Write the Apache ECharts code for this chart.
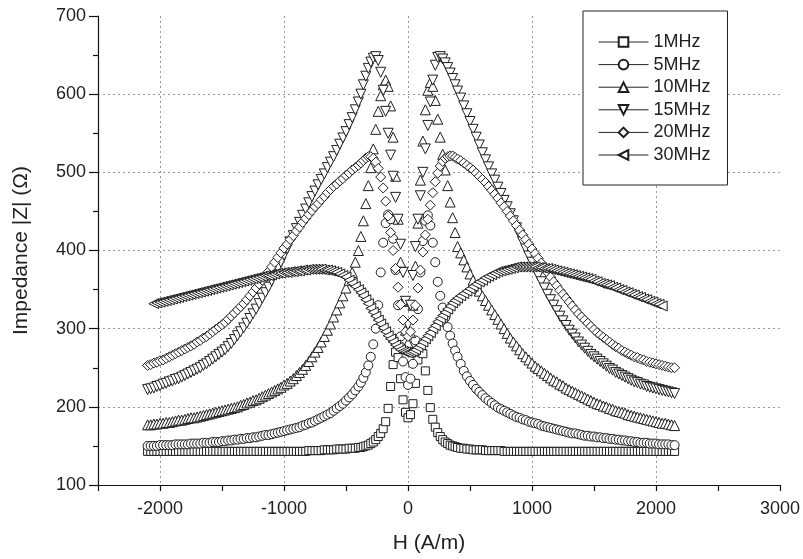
<!DOCTYPE html>
<html>
<head>
<meta charset="utf-8">
<script src="https://cdn.jsdelivr.net/npm/echarts@6/dist/echarts.min.js"></script>
<style>
    html, body { margin: 0; padding: 0; background: #fff; }
    #chart { width: 803px; height: 559px; }
</style>
</head>
<body>
<div id="chart"></div>
<script>
    // H grid (A/m): 25 A/m steps on the wings, 20 A/m steps inside +-400
    var hLeft = [
      -2100,-2075,-2050,-2025,-2000,-1975,-1950,-1925,-1900,-1875,
      -1850,-1825,-1800,-1775,-1750,-1725,-1700,-1675,-1650,-1625,
      -1600,-1575,-1550,-1525,-1500,-1475,-1450,-1425,-1400,-1375,
      -1350,-1325,-1300,-1275,-1250,-1225,-1200,-1175,-1150,-1125,
      -1100,-1075,-1050,-1025,-1000,-975,-950,-925,-900,-875,
      -850,-825,-800,-775,-750,-725,-700,-675,-650,-625,
      -600,-575,-550,-525,-500,-475,-450,-425
    ];
    var hMid = [-400,-380,-360,-340,-320,-300,-280,-260,-240,-220,-200,-180,-160,-140,-120,-100,-80,-60,-40,-20,0,20,40,60,80,100,120,140,160,180,200,220,240,260,280,300,320,340,360,380,400];
    var hRight = [
      425,450,475,500,525,550,575,600,625,650,
      675,700,725,750,775,800,825,850,875,900,
      925,950,975,1000,1025,1050,1075,1100,1125,1150,
      1175,1200,1225,1250,1275,1300,1325,1350,1375,1400,
      1425,1450,1475,1500,1525,1550,1575,1600,1625,1650,
      1675,1700,1725,1750,1775,1800,1825,1850,1875,1900,
      1925,1950,1975,2000,2025,2050,2075,2100,2125,2150
    ];
    var hValues = hLeft.concat(hMid, hRight);

    // |Z| (Ohm) per frequency, same order as hValues (left wing / middle / right wing)
    var z1MHz = [
      143,143,143,143,143,143,143,143,143,143, 143,143,143,143,143,143,143,143,143,143,
      143,143,143,143,143,143,143,143,143,143, 143,143,143,143,143,143,143,143,143,143,
      143,143,143,143,143,143,143,143,143,143, 143,143,144,144,144,144,144,145,145,145,
      145,146,146,146,146,147,147,147,
      148,148,149,150,151,153,155,158,162,166, 172,181,198,226,254,270,263,236,209,193, 186,
      190,204,230,260,275,268,246,221,199,184, 174,167,162,158,155,153,151,150,149,148,
      147,147,146,146,145,145,145,145,144,144, 144,144,144,144,143,143,143,143,143,143,
      143,143,143,143,143,143,143,143,143,143, 143,143,143,143,143,143,143,143,143,143,
      143,143,143,143,143,143,143,143,143,143, 143,143,143,143,143,143,143,143,143,143,
      143,143,143,143,143,143,143,143,143,143
    ];
    var z5MHz = [
      150,150,150,150,151,151,151,151,151,152, 152,152,152,152,153,153,153,153,154,154,
      154,155,155,155,156,156,157,157,158,158, 159,159,160,160,161,161,162,163,164,164,
      165,166,167,168,169,170,171,172,173,174, 176,177,179,180,182,184,186,188,190,192,
      195,198,201,204,208,212,216,221,
      226,231,237,244,253,264,280,300,330,372, 410,435,446,440,415,375,330,290,258,238, 228,
      236,255,285,325,372,412,438,445,432,410, 385,360,342,327,314,302,291,281,272,264,
      255,246,239,233,228,223,219,215,211,208, 205,202,199,197,195,193,191,189,187,186,
      184,183,181,180,179,178,176,175,174,173, 172,171,170,169,168,167,166,166,165,164,
      163,163,162,162,161,161,160,160,159,159, 158,158,157,157,156,156,155,155,154,154,
      154,153,153,153,152,152,152,152,151,151
    ];
    var z10MHz = [
      177,177,178,178,179,179,180,180,181,182, 183,183,184,185,186,186,187,188,189,190,
      191,192,193,194,195,196,197,198,199,200, 202,203,205,206,208,209,211,213,215,217,
      219,221,223,225,228,230,233,236,240,244, 248,253,258,264,270,276,283,290,298,306,
      315,324,333,342,352,362,372,385,
      400,418,438,460,483,506,530,555,578,598, 612,618,610,585,545,495,440,385,335,298, 282,
      295,330,380,435,490,540,580,605,615,610, 592,568,545,523,503,483,462,442,423,405,
      397,388,379,370,362,355,348,342,336,330, 324,318,312,306,300,294,288,283,278,273,
      268,264,260,256,252,249,246,243,240,237, 234,232,229,227,224,222,220,218,216,214,
      212,210,208,206,204,203,201,200,198,197, 195,194,193,192,190,189,188,187,186,185,
      184,183,182,181,180,179,179,178,177,176
    ];
    var z15MHz = [
      222,223,224,226,227,229,230,232,233,235, 236,238,240,242,244,246,248,250,253,255,
      258,261,264,267,270,273,277,281,286,291, 296,301,307,313,319,325,332,339,346,353,
      361,369,377,385,394,402,411,419,428,436, 445,453,461,469,476,484,491,498,506,513,
      520,528,536,544,552,561,570,580,
      590,600,612,623,633,641,646,648,643,628, 605,578,550,522,495,468,440,408,372,335, 305,
      330,368,405,440,470,500,530,560,590,618, 637,647,648,645,640,634,627,620,612,604,
      595,585,575,565,555,545,535,525,516,507, 498,490,481,473,464,456,447,438,429,420,
      411,402,393,385,376,368,360,352,344,337, 330,323,316,310,304,298,293,288,283,279,
      275,271,267,264,261,258,255,252,249,247, 244,242,240,238,236,234,232,231,229,228,
      226,225,224,223,222,221,220,219,218,217
    ];
    var z20MHz = [
      253,254,256,257,259,260,262,264,266,268, 270,272,274,276,278,280,283,285,288,290,
      293,296,299,302,305,308,312,316,320,324, 328,332,337,342,347,352,357,362,368,373,
      379,385,391,397,403,408,414,419,425,430, 436,441,446,451,456,460,465,469,474,478,
      482,485,489,492,496,499,503,506,
      509,512,515,518,520,520,518,513,505,494, 480,463,444,423,400,377,353,331,311,296, 290,
      296,311,330,352,375,398,420,440,458,474, 488,499,508,514,518,520,521,521,519,517,
      515,512,509,506,503,499,495,491,487,482, 477,472,467,461,456,450,444,438,432,426,
      420,414,408,402,396,390,384,378,372,366, 360,355,349,344,339,334,329,324,319,315,
      311,307,303,299,295,292,289,286,283,280, 277,275,272,270,268,266,264,263,261,260,
      258,257,256,255,254,253,252,251,250,250
    ];
    var z30MHz = [
      null,null,332,333,334,335,336,337,338,339, 340,341,342,343,344,345,346,347,348,349,
      350,351,352,353,354,355,356,357,358,359, 360,361,362,363,364,365,366,367,368,368,
      369,370,371,371,372,372,373,373,374,374, 375,375,376,376,376,376,376,375,375,374,
      373,372,370,368,366,362,358,354,
      350,346,342,337,332,326,321,316,311,306, 301,296,291,287,283,279,276,273,271,270, 269,
      270,271,273,276,279,283,287,291,295,300, 304,309,313,317,321,325,329,333,336,339,
      342,345,348,351,354,357,360,362,365,367, 369,371,373,374,375,376,377,378,379,379,
      379,379,379,379,379,378,378,377,377,376, 375,374,373,372,371,370,369,368,367,366,
      365,364,363,361,360,358,357,356,355,353, 352,350,349,347,346,344,343,341,340,338,
      337,335,334,332,331,329,null,null,null,null
    ];

    var seriesNames = ['1MHz', '5MHz', '10MHz', '15MHz', '20MHz', '30MHz'];
    var seriesZ = [z1MHz, z5MHz, z10MHz, z15MHz, z20MHz, z30MHz];

    // marker look per series
    var markerShape = ['rect', 'circle', 'triangle', 'triangle', 'diamond', 'triangle'];
    var markerRotate = [0, 0, 0, 180, 0, 90];
    var markerSize = [8, 9, 10, 10, 10, 10];

    var toPairs = function (zs) {
      var out = [];
      for (var i = 0; i < hValues.length; i++) {
        if (zs[i] !== null) out.push([hValues[i], zs[i]]);
      }
      return out;
    };

    var fontName = '"Liberation Sans", Arial, Helvetica, sans-serif';
    var myChart = echarts.init(document.getElementById('chart'), null, {renderer: 'canvas'});

    var option = {
      animation: false,
      backgroundColor: '#fff',
      textStyle: {fontFamily: fontName},
      grid: {left: 98, right: 23, top: 16, bottom: 72},
      legend: {
        orient: 'vertical',
        left: 583,
        top: 11,
        padding: [22, 17, 21, 15],
        itemWidth: 50,
        itemHeight: 12,
        itemGap: 4.6,
        borderColor: '#222',
        borderWidth: 1,
        backgroundColor: '#fff',
        textStyle: {fontSize: 18, color: '#222', fontFamily: fontName},
        lineStyle: {color: '#222', width: 1, opacity: 1},
        data: seriesNames
      },
      xAxis: {
        type: 'value',
        min: -2500,
        max: 3000,
        interval: 500,
        name: 'H (A/m)',
        nameLocation: 'middle',
        nameGap: 48,
        nameTextStyle: {fontSize: 21, color: '#222', padding: [0, 20, 0, 0]},
        axisLine: {onZero: false, lineStyle: {color: '#111', width: 1.2}},
        axisTick: {length: 6, lineStyle: {color: '#111', width: 1.2}},
        axisLabel: {
          fontSize: 18, color: '#222', margin: 15,
          formatter: function (v) { return v % 1000 === 0 ? String(v) : ''; }
        },
        splitLine: {
          show: true, showMinLine: false, showMaxLine: false,
          lineStyle: {color: ['#999', 'rgba(0,0,0,0)'], width: 1, type: [2, 3]}
        }
      },
      yAxis: {
        type: 'value',
        min: 100,
        max: 700,
        interval: 100,
        name: 'Impedance |Z| (\u03A9)',
        nameLocation: 'middle',
        nameGap: 66,
        nameTextStyle: {fontSize: 21, color: '#222'},
        axisLine: {show: true, onZero: false, lineStyle: {color: '#111', width: 1.2}},
        axisTick: {show: true, length: 9, lineStyle: {color: '#111', width: 1.2}},
        minorTick: {show: true, splitNumber: 2, length: 5, lineStyle: {color: '#111', width: 1.2}},
        axisLabel: {fontSize: 18, color: '#222', margin: 12},
        splitLine: {
          show: true, showMinLine: false, showMaxLine: false,
          lineStyle: {color: '#999', width: 1, type: [2, 3]}
        }
      },
      series: seriesNames.map(function (name, i) {
        return {
          name: name,
          type: 'line',
          data: toPairs(seriesZ[i]),
          symbol: markerShape[i],
          symbolRotate: markerRotate[i],
          symbolSize: markerSize[i],
          showAllSymbol: true,
          silent: true,
          lineStyle: {opacity: 0},
          itemStyle: {color: '#fff', borderColor: '#1e1e1e', borderWidth: 1},
          emphasis: {disabled: true}
        };
      })
    };

    myChart.setOption(option);
</script>
</body>
</html>
